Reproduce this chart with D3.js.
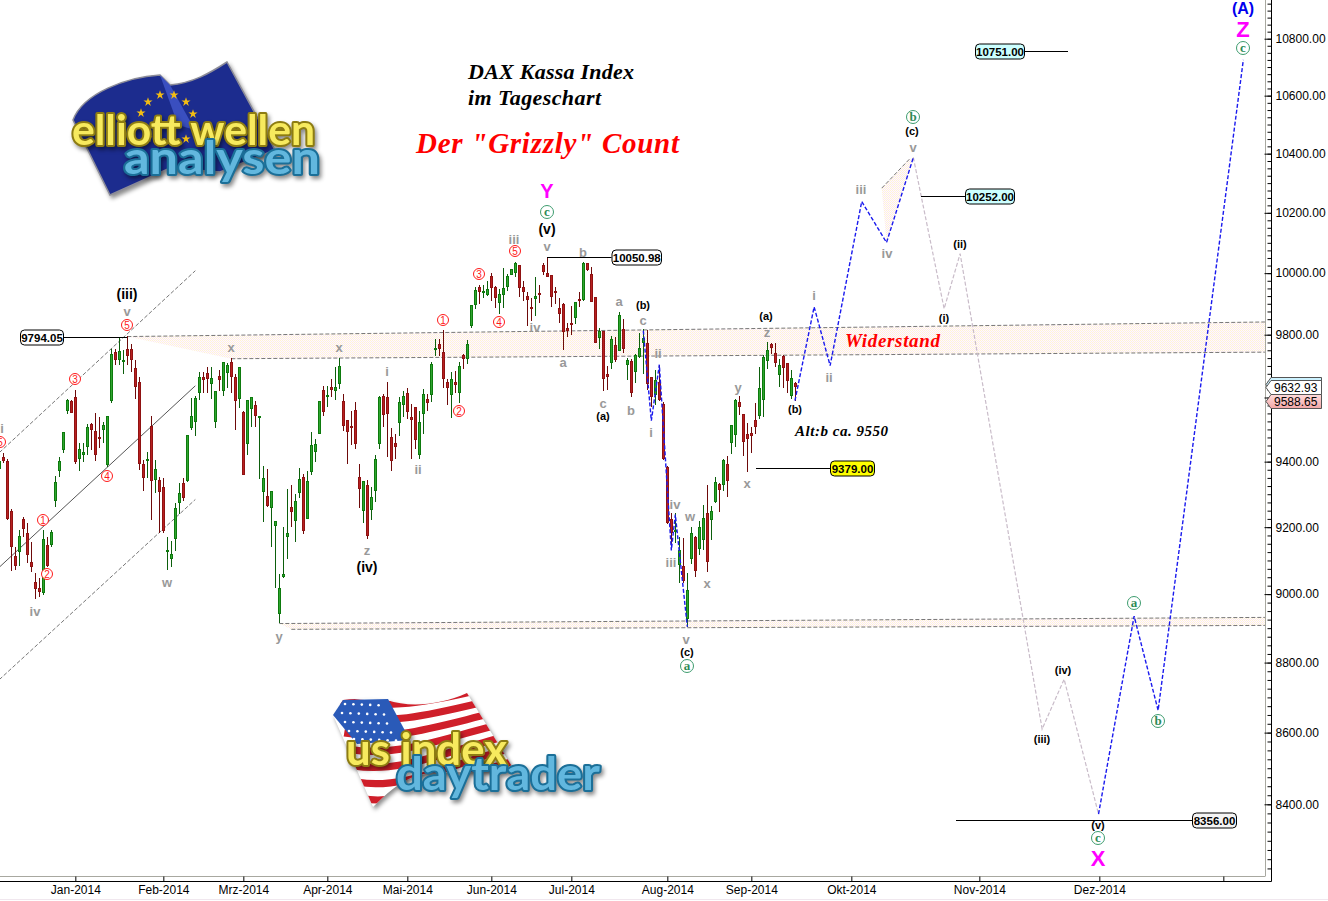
<!DOCTYPE html>
<html><head><meta charset="utf-8"><style>
html,body{margin:0;padding:0;background:#fff;overflow:hidden}
svg{display:block}
text{font-family:"Liberation Sans",Arial,sans-serif}
</style></head><body><div id="chart"></div>
<script src="https://cdn.jsdelivr.net/npm/d3@7"></script>
<script>
// ---------- data: daily candles, index 0 = first bar on the chart ----------
const opens=[
9378,9415,9403,9248,9113,9126,9224,9181,9095,9036,9018,9004,9146,9145,9280,9372,9436,9557,9589,9601,9409,9422,9446,9517,9494,
9477,9498,9391,9590,9745,9719,9714,9753,9753,9693,9649,9393,9403,9511,9344,9344,9321,9126,9105,9165,9274,9333,9339,9504,9524,
9615,9664,9677,9643,9523,9668,9622,9679,9713,9664,9594,9554,9455,9563,9577,9542,9307,9295,9258,9204,8940,9050,9171,9262,9218,
9303,9354,9226,9368,9430,9486,9624,9603,9632,9622,9643,9588,9529,9511,9561,9352,9250,9327,9252,9311,9455,9605,9601,9475,9457,
9521,9577,9613,9538,9571,9420,9548,9594,9609,9751,9770,9745,9649,9609,9649,9613,9736,9723,9828,9895,9956,9936,9930,9991,9956,
9904,9930,9956,9995,10002,10028,9954,9925,9888,9917,9936,10026,9999,9995,9941,9886,9899,9821,9837,9854,9914,9912,10032,9997,9921,
9789,9813,9674,9710,9766,9749,9819,9704,9715,9681,9727,9772,9772,9664,9609,9649,9580,9382,9224,9185,9085,9083,8928,9105,9171,
9135,9161,9242,9222,9276,9331,9329,9393,9459,9484,9586,9548,9486,9490,9529,9542,9592,9717,9770,9740,9672,9732,9708,9605,9647];
const highs=[
9415,9428,9407,9256,9141,9191,9230,9212,9155,9064,9048,9191,9171,9191,9356,9415,9492,9594,9592,9624,9459,9457,9517,9519,9550,
9540,9523,9542,9753,9753,9794,9751,9796,9770,9719,9666,9405,9430,9542,9405,9352,9350,9171,9159,9274,9333,9350,9482,9597,9605,
9682,9682,9696,9698,9622,9687,9713,9710,9725,9674,9698,9557,9592,9601,9590,9542,9387,9376,9272,9204,9060,9202,9317,9329,9301,
9380,9362,9372,9492,9469,9588,9636,9636,9657,9696,9725,9611,9529,9559,9586,9393,9342,9344,9321,9422,9605,9611,9649,9504,9486,
9601,9619,9630,9580,9571,9557,9626,9611,9713,9787,9787,9815,9657,9681,9685,9713,9738,9783,9895,9954,9960,9960,9975,9999,9958,
9947,10017,9997,10015,10037,10028,9973,9938,9919,9986,9962,10032,10052,9995,9956,9918,9901,9837,9893,9906,9938,10037,10034,10021,9923,
9822,9813,9700,9796,9794,9873,9850,9725,9721,9738,9804,9819,9815,9666,9687,9704,9586,9387,9242,9242,9169,9167,9062,9200,9173,
9218,9266,9327,9264,9352,9335,9407,9417,9513,9594,9605,9548,9521,9506,9584,9696,9734,9777,9774,9772,9723,9734,9708,9687,9649];
const lows=[
9374,9397,9222,9070,9072,9083,9171,9091,9067,8985,8992,8997,9081,9141,9260,9354,9428,9548,9550,9393,9370,9399,9420,9436,9403,
9442,9459,9385,9584,9704,9702,9674,9704,9681,9596,9374,9311,9350,9222,9303,9183,9181,9072,9079,9129,9240,9280,9337,9498,9479,
9592,9615,9615,9596,9504,9619,9605,9630,9615,9498,9567,9360,9420,9509,9509,9346,9216,9260,9141,9017,8914,9047,9105,9202,9155,
9289,9179,9226,9358,9399,9486,9542,9571,9603,9592,9626,9494,9393,9450,9440,9258,9214,9165,9222,9276,9440,9506,9413,9370,9407,
9479,9538,9534,9409,9438,9409,9486,9559,9586,9732,9732,9630,9577,9536,9613,9582,9691,9706,9822,9882,9899,9919,9925,9910,9886,
9867,9886,9943,9993,9986,9921,9908,9828,9845,9860,9904,9995,9986,9888,9899,9839,9751,9794,9800,9834,9891,9908,10008,9906,9772,
9755,9619,9624,9689,9713,9747,9740,9655,9603,9645,9725,9674,9624,9571,9575,9590,9405,9210,9131,9151,9032,9032,8904,9089,9050,
9116,9131,9066,9161,9274,9246,9309,9293,9424,9446,9544,9417,9368,9426,9486,9531,9540,9691,9738,9698,9634,9630,9613,9596,9588];
const closes=[
9403,9403,9224,9141,9083,9173,9195,9115,9079,9016,9006,9163,9083,9185,9337,9401,9492,9592,9552,9399,9438,9430,9506,9498,9422,
9471,9513,9542,9738,9719,9747,9719,9732,9719,9632,9393,9350,9407,9339,9376,9307,9187,9131,9119,9258,9303,9289,9482,9542,9598,
9664,9655,9660,9662,9619,9655,9713,9702,9664,9590,9696,9360,9592,9601,9542,9542,9350,9264,9309,9218,9018,9060,9181,9246,9278,
9346,9189,9339,9450,9455,9588,9554,9608,9624,9632,9700,9511,9492,9504,9455,9317,9339,9173,9291,9409,9603,9544,9548,9403,9446,
9586,9605,9554,9529,9467,9523,9611,9584,9706,9756,9753,9657,9630,9660,9641,9700,9723,9770,9895,9945,9938,9942,9949,9951,9919,
9932,9951,9991,10013,10034,9951,9938,9912,9884,9925,9930,10004,9988,9921,9936,9867,9809,9813,9832,9906,9910,10034,10010,9906,9774,
9813,9660,9666,9787,9719,9862,9753,9719,9613,9736,9757,9788,9643,9601,9655,9592,9409,9212,9183,9191,9131,9040,9012,9181,9070,
9201,9228,9094,9248,9337,9313,9405,9339,9513,9592,9571,9461,9469,9480,9508,9630,9729,9751,9757,9710,9704,9692,9653,9662,9634];

// month axis: bar index of each month start and its label
const monthBars=[19,41,61,82,102,123,143,167,188,213,245,275,306];
const monthLabels=["Jan-2014","Feb-2014","Mrz-2014","Apr-2014","Mai-2014","Jun-2014","Jul-2014","Aug-2014","Sep-2014","Okt-2014","Nov-2014","Dez-2014",""];
const priceLabelTicks=[8400,8600,8800,9000,9200,9400,9800,10000,10200,10400,10600,10800];

// resistance / support bands
const resistBars=[32,58,316.4], resistTop=[9794,9798,9841], resistBottom=[9794,9723,9744];
const supportBars=[70,73,316.4], supportTop=[8913.5,8913.7,8931.5], supportBottom=[8913.5,8896.6,8908];

// upward channel in Jan-Feb
const channelBars=[0,49];
const channelUpper=[9428,10008], channelMiddle=[9080,9637], channelLower=[8751,9284];

// wave projection paths
const declineBars=[161,163,165,168,169,172], declinePrices=[9813,9527,9704,9130,9238,8904];
const rallyBars=[198.9,203.7,207.7,215.6,221.8,228.5], rallyPrices=[9590,9890,9701,10238,10101,10387];
const dropBars=[228.5,236.2,240.2,260.7,266.2,274.8], dropPrices=[10387,9884,10064,8610,8752,8373];
const finalBars=[274.8,283.7,289.7,311], finalPrices=[8373,8935,8663,10725];
const wedgeBars=[220.6,227.5,228.5,221.8], wedgePrices=[10283,10381,10387,10101];

// level boxes
const levelValues=[9794.05,10050.98,9379,10252,10751,8356];
const tagValues=[9632.93,9588.65];

// ---------- layout ----------
const W=1328,H=901;
const x=d3.scaleLinear().domain([0,317]).range([-0.67,1267.33]);
const y=d3.scaleLog().domain([8400,10800]).range([804.3,38.7]);
const svg=d3.select("#chart").append("svg").attr("width",W).attr("height",H).attr("viewBox",`0 0 ${W} ${H}`);
const defs=svg.append("defs");
const pat=defs.append("pattern").attr("id","dither").attr("width",2).attr("height",2).attr("patternUnits","userSpaceOnUse");
pat.append("rect").attr("width",2).attr("height",2).attr("fill","#fffdf9");
pat.append("rect").attr("width",1).attr("height",1).attr("fill","#fff0d8");
pat.append("rect").attr("x",1).attr("y",1).attr("width",1).attr("height",1).attr("fill","#fce8f0");
const line=(bars,vals)=>d3.line()(bars.map((b,i)=>[x(b),y(vals[i])]));

// ---------- logos ----------
const logoShadow="drop-shadow(2px 3px 2px rgba(0,0,0,.45))";
function logoText(t,x0,base,size,len,fill,stroke){
  svg.append("text").text(t).attr("x",x0).attr("y",base)
   .attr("textLength",len).attr("lengthAdjust","spacingAndGlyphs")
   .style("font-family","Lato,'Open Sans',sans-serif").style("font-weight",700).style("font-size",size+"px")
   .attr("fill",fill).attr("stroke",stroke).attr("stroke-width",4).attr("stroke-linejoin","round")
   .style("paint-order","stroke").style("filter",logoShadow);
}
// EU flag
const eu=svg.append("g");
eu.append("path").attr("d","M73,120 C83,93 127,77 160,75 L170,85 C193,83 210,73 227,62 L275,150 L220,172 L170,168 L110,195 Z")
  .attr("fill","#1c2c8e").attr("stroke","#8c8c98").attr("stroke-width",1.5).style("filter",logoShadow);
eu.append("path").attr("d","M160,75 L170,85 L195,130 L178,125 Z").attr("fill","#3a4fc0");
const euStars=[[148,102],[160,95],[174,95],[186,102],[193,114],[186,139],[148,138],[141,113]];
eu.selectAll("path.star").data(euStars).join("path").attr("class","star")
  .attr("transform",d=>`translate(${d[0]},${d[1]})`).attr("d",d3.symbol(d3.symbolStar,26)).attr("fill","#f3bd13");
logoText("elliott wellen",72,145,42,243,"#f7ea5e","#8d7c12");
logoText("analysen",124,174,46,196,"#62b7de","#1b6f98");
// US flag
const us=svg.append("g");
const flagPath="M333,715 L343,700 C360,698 375,698 387,700 C410,708 440,705 467,693 L513,768 C480,775 440,770 420,775 C400,780 385,795 373,807 Z";
defs.append("clipPath").attr("id","usclip").append("path").attr("d",flagPath);
us.append("path").attr("d",flagPath).attr("fill","#fff").style("filter",logoShadow);
const usStripes=us.append("g").attr("clip-path","url(#usclip)");
d3.range(7).forEach(k=>{
  const t=k/6.5;
  const lx=343+30*t, ly=700+107*t, rx=467+46*t, ry=693+75*t;
  usStripes.append("path").attr("d",`M${lx-8},${ly} C${lx+40},${ly+8} ${rx-50},${ry+12} ${rx+8},${ry-2}`)
    .attr("fill","none").attr("stroke","#cf1f2a").attr("stroke-width",7.2);
});
us.append("path").attr("d","M333,715 L343,700 L388,699 L410,740 L357,744 Z").attr("fill","#2a5ab8");
const usStarRows=[[345,704,5],[342,713,6],[345,722,6],[349,731,6],[354,739,6]];
usStarRows.forEach(([sx,sy,n])=>d3.range(n).forEach(k=>{
  us.append("circle").attr("cx",sx+k*8.4).attr("cy",sy+k*.3).attr("r",1.3).attr("fill","#fff");
}));
logoText("us index",346,765,44,161,"#f7ea5e","#8d7c12");
logoText("daytrader",396,790,46,204,"#62b7de","#1b6f98");

// ---------- bands ----------
const poly=(bars,top,bottom)=>{
  const pts=bars.map((b,i)=>[x(b),y(top[i])]).concat(bars.map((b,i)=>[x(b),y(bottom[i])]).reverse());
  return "M"+pts.map(p=>p.join(",")).join("L")+"Z";
};
const band=svg.append("g");
band.append("path").attr("d",poly(resistBars,resistTop,resistBottom)).attr("fill","url(#dither)");
band.append("path").attr("d",poly(supportBars,supportTop,supportBottom)).attr("fill","url(#dither)");
band.append("path").attr("d",line(wedgeBars,wedgePrices)+"Z").attr("fill","url(#dither)");
const dashed=(d,c="#777")=>band.append("path").attr("d",d).attr("fill","none").attr("stroke",c).attr("stroke-width",1).attr("stroke-dasharray","4,2");
dashed(line([resistBars[0],resistBars[2]],[resistTop[0],resistTop[2]]));
dashed(line(resistBars.slice(1),resistBottom.slice(1)));
dashed(line([supportBars[0],supportBars[2]],[supportTop[0],supportTop[2]]));
dashed(line(supportBars.slice(1),supportBottom.slice(1)));
dashed(line(wedgeBars.slice(0,2),wedgePrices.slice(0,2)));

// channel
dashed(line(channelBars,channelUpper),"#777");
dashed(line(channelBars,channelLower),"#777");
band.append("path").attr("d",line(channelBars,channelMiddle)).attr("stroke","#555").attr("fill","none");

// ---------- level connectors ----------
const levelLayout=[
 {x0:20,x1:63,a:63,b:127,fill:"#ffffff",dy:0},
 {x0:611.5,x1:661,a:547,b:611.5,fill:"#ffffff",dy:-1},
 {x0:830,x1:874,a:756,b:830,fill:"#ffff00",dy:0},
 {x0:965,x1:1014,a:921,b:965,fill:"#ccffff",dy:-1},
 {x0:975,x1:1024,a:1024,b:1068,fill:"#ccffff",dy:-2},
 {x0:1192,x1:1236,a:956,b:1192,fill:"#f4f4f4",dy:0}];
const lev=svg.append("g");
levelValues.forEach((v,i)=>{
  const L=levelLayout[i], yy=Math.round(y(v))+.5+L.dy;
  lev.append("line").attr("x1",L.a).attr("x2",L.b).attr("y1",yy).attr("y2",yy).attr("stroke","#000");
});

// ---------- candles ----------
const bars=d3.range(opens.length).map(i=>({i,o:opens[i],h:highs[i],l:lows[i],c:closes[i]}));
const px=d=>Math.floor(x(d.i))+.5;
const cg=svg.append("g").selectAll("g").data(bars).join("g");
cg.append("line").attr("x1",px).attr("x2",px)
  .attr("y1",d=>Math.round(y(d.h))).attr("y2",d=>Math.round(y(d.l)))
  .attr("stroke",d=>d.c>=d.o?"#0c5f0c":"#6e0a0a");
cg.append("rect").attr("x",d=>px(d)-1).attr("width",2)
  .attr("y",d=>Math.round(y(Math.max(d.o,d.c)))+.5)
  .attr("height",d=>Math.max(1,Math.round(y(Math.min(d.o,d.c)))-Math.round(y(Math.max(d.o,d.c)))-1))
  .attr("fill",d=>d.c>=d.o?"#2fa52f":"#b82020")
  .attr("stroke",d=>d.c>=d.o?"#0d7a0d":"#8f1212");

// ---------- projections ----------
const proj=(b,p,c,w,da)=>svg.append("path").attr("d",line(b,p)).attr("fill","none").attr("stroke",c).attr("stroke-width",w).attr("stroke-dasharray",da);
proj(declineBars,declinePrices,"#1a1aee",1.4,"4,2");
proj(dropBars,dropPrices,"#c9bcc9",1.2,"4,2");
proj(rallyBars,rallyPrices,"#1a1aee",1.4,"4,2");
proj(finalBars,finalPrices,"#1a1aee",1.4,"4,2");

// ---------- level boxes ----------
levelValues.forEach((v,i)=>{
  const L=levelLayout[i], yy=Math.round(y(v))+.5+L.dy;
  lev.append("rect").attr("x",L.x0+.5).attr("y",yy-7.5).attr("width",L.x1-L.x0).attr("height",15).attr("rx",4)
    .attr("fill",L.fill).attr("stroke","#000");
  lev.append("text").text(v.toFixed(2)).attr("x",(L.x0+L.x1)/2+.5).attr("y",yy+4).attr("text-anchor","middle")
    .style("font-size","11.5px").style("font-weight",700);
});
lev.raise();

// ---------- axes ----------
const ax=svg.append("g");
ax.append("line").attr("x1",1265.5).attr("x2",1265.5).attr("y1",0).attr("y2",876).attr("stroke","#a8a8a0");
ax.append("line").attr("x1",0).attr("x2",1265.5).attr("y1",876.5).attr("y2",876.5).attr("stroke","#a8a8a0");
ax.append("line").attr("x1",1271.5).attr("x2",1271.5).attr("y1",0).attr("y2",881.5).attr("stroke","#000");
ax.append("line").attr("x1",0).attr("x2",1271.5).attr("y1",881.5).attr("y2",881.5).attr("stroke","#000");
ax.append("line").attr("x1",0).attr("x2",1328).attr("y1",899.5).attr("y2",899.5).attr("stroke","#f0e7ee");

const xAxis=d3.axisBottom(x).tickValues(monthBars).tickSize(5).tickPadding(3.5)
  .tickFormat((d,i)=>monthLabels[i]);
const gx=ax.append("g").attr("transform","translate(0,876.5)").call(xAxis);
gx.select(".domain").remove();
gx.selectAll("line").attr("stroke","#000");
gx.selectAll("text").style("font-size","12px").style("font-family",'"Liberation Sans",Arial,sans-serif').attr("fill","#000");

const minorAxis=d3.axisRight(y).tickValues(d3.range(8225,10950,25)).tickSize(-4).tickFormat("");
const gm=ax.append("g").attr("transform","translate(1271.5,0)").call(minorAxis);
gm.select(".domain").remove(); gm.selectAll("line").attr("stroke","#000");
const yAxis=d3.axisRight(y).tickValues(d3.range(8400,11000,200)).tickSize(-7).tickPadding(4)
  .tickFormat(d=>priceLabelTicks.includes(d)?d3.format(".2f")(d):"");
const gy=ax.append("g").attr("transform","translate(1271.5,0)").call(yAxis);
gy.select(".domain").remove(); gy.selectAll("line").attr("stroke","#000");
gy.selectAll("text").style("font-size","12px").style("font-family",'"Liberation Sans",Arial,sans-serif').attr("fill","#000");

// price tags
const grad=defs.append("linearGradient").attr("id","pinkg").attr("x1",0).attr("x2",0).attr("y1",0).attr("y2",1);
grad.append("stop").attr("offset",0).attr("stop-color","#ffdcdc");
grad.append("stop").attr("offset",1).attr("stop-color","#f2a6a6");
const tag=(cy,fill,label)=>{
  const c=Math.round(cy)+.5;
  ax.append("path").attr("d",`M1266,${c} L1271,${c-7} H1321.5 V${c+7} H1271 Z`).attr("fill",fill).attr("stroke","#555");
  if(label) ax.append("text").text(label).attr("x",1274).attr("y",c+4.5).style("font-size","12px").attr("fill","#000");
};
tag(y(tagValues[0])-3,"#ccf2ff","");
tag(y(tagValues[0]),"#ffffff",tagValues[0].toFixed(2));
tag(y(tagValues[1]),"url(#pinkg)",tagValues[1].toFixed(2));

// ---------- titles ----------
const serif=(t,xx,yy,sz,fill,len)=>{
  const s=svg.append("text").text(t).attr("x",xx).attr("y",yy).attr("fill",fill)
   .style("font-family",'"Liberation Serif","Times New Roman",serif').style("font-weight",700).style("font-style","italic").style("font-size",sz+"px");
  if(len) s.attr("textLength",len);
};
serif("DAX Kassa Index",468,79,22,"#000",166);
serif("im Tageschart",468,105,22,"#000",133);
serif('Der "Grizzly" Count',416,153,29,"#ff0000",263);
serif("Widerstand",845,347,19,"#ff0000",95);
serif("Alt:b ca. 9550",795,436,15,"#000",93);

// ---------- wave annotations ----------
const grayLabelLayout=[["i",2,428],["iv",35,611],["v",127,311],["x",231,347],["w",167,582],["y",279,636],["x",339,347],["i",387,371],["ii",418,469],["z",367,550],["iii",514,239],["iv",535,327],["v",547,246],["b",583,252],["a",563,362],["a",619,301],["c",603,403],["b",631,410],["c",643,320],["ii",658,353],["i",651,432],["iv",675,504],["iii",671,562],["w",690,516],["x",707,583],["v",686,639],["y",738,387],["x",747,483],["z",767,332],["i",814,295],["ii",829,377],["iii",861,189],["iv",887,253],["v",913,147]];
const blackLargeLayout=[["(iii)",127,294],["(iv)",367,567],["(v)",547,229]];
const blackSmallLayout=[["(a)",603,416],["(b)",643,305],["(a)",766,316],["(b)",795,409],["(c)",687,652],["(c)",912,131],["(i)",944,318],["(ii)",960,244],["(iii)",1042,739],["(iv)",1063,670],["(v)",1098,825]];
const redCircleLayout=[["5",127,325],["3",75,379],["4",107,476],["1",43,520],["2",47,574],["5",0,442],["1",443,320],["2",459,411],["3",479,274],["4",499,322],["5",515,251]];
const greenCircleLayout=[["c",547,212],["a",687,666],["b",913,117],["a",1134,603],["b",1158,721],["c",1098,838],["c",1243,48]];
const bigLayout=[["Y",547,191,20,"#ff00ff"],["X",1098,858,22,"#ff00ff"],["Z",1243,29,22,"#ff00ff"],["(A)",1243,8,16,"#0000ee"]];
const an=svg.append("g").attr("text-anchor","middle");
const label=(t,xx,yy,sz,fill,w=700,fam)=>{
  const s=an.append("text").text(t).attr("x",xx).attr("y",yy).attr("dy",".36em").attr("fill",fill)
    .style("font-size",sz+"px").style("font-weight",w);
  if(fam) s.style("font-family",fam);
};
grayLabelLayout.forEach(d=>label(d[0],d[1],d[2],13,"#999"));
blackLargeLayout.forEach(d=>label(d[0],d[1],d[2],14,"#000"));
blackSmallLayout.forEach(d=>label(d[0],d[1],d[2],11,"#000"));
redCircleLayout.forEach(d=>{
  an.append("circle").attr("cx",d[1]).attr("cy",d[2]).attr("r",5.5).attr("fill","#fff").attr("stroke","#ff1a1a");
  label(d[0],d[1],d[2],10,"#ff1a1a",400);
});
greenCircleLayout.forEach(d=>{
  an.append("circle").attr("cx",d[1]).attr("cy",d[2]).attr("r",6.5).attr("fill","#fff").attr("stroke","#3d9c6e");
  label(d[0],d[1],d[2]-.5,13,"#2e8b57",700,'"Liberation Serif",serif');
});
bigLayout.forEach(d=>label(d[0],d[1],d[2],d[3],d[4]));
</script></body></html>
